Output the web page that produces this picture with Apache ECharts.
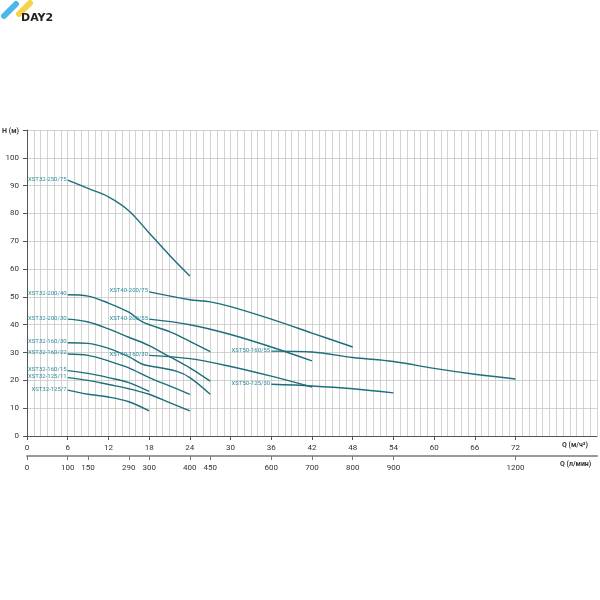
<!DOCTYPE html>
<html><head><meta charset="utf-8">
<script src="https://cdn.jsdelivr.net/npm/echarts@6/dist/echarts.min.js"></script>
<style>html,body{margin:0;padding:0;background:#fff}#c{width:600px;height:600px}</style>
</head><body><div id="c"></div>
<script>
const names = ["XST32-250/75","XST32-200/40","XST32-200/30","XST32-160/30","XST32-160/22","XST32-160/15","XST32-125/11","XST32-125/7","XST40-200/75","XST40-200/55","XST40-160/30","XST50-160/55","XST50-125/30"];
const curves = [
 [[6,92],[9,89],[12,86],[15,81],[18,73],[21,65],[24,57.5]],
 [[6,50.8],[9,50.3],[12,47.8],[15,44.5],[17,41],[21,37.5],[24,34],[27,30.3]],
 [[6,42],[9,41],[12,38.5],[15,35.5],[18,32.5],[21,28.5],[24,24.5],[27,19.7]],
 [[6,33.5],[9,33.3],[12,31.5],[15,28.5],[17,25.8],[19,24.8],[22,23.3],[24,21],[27,15]],
 [[6,29.5],[9,29],[12,27],[15,24.5],[18,21],[21,18],[24,15]],
 [[6,23.5],[9,22.5],[12,21],[15,19.2],[18,16]],
 [[6,21],[9,20],[12,18.5],[15,17],[18,15],[21,12],[24,9]],
 [[6,16.5],[9,15],[12,14],[15,12.3],[18,9]],
 [[18,51.8],[24,49],[27,48.2],[30,46.5],[36,42],[42,37],[48,32]],
 [[18,42],[24,40],[30,36.5],[36,32],[42,27]],
 [[18,29],[24,27.8],[30,25],[36,21.5],[42,17.6]],
 [[36,30.5],[42,30.2],[48,28.2],[54,26.8],[60,24.3],[66,22.2],[72,20.5]],
 [[36,18.6],[42,18],[48,17],[54,15.5]]
];
const qTicks = [0,6,12,18,24,30,36,42,48,54,60,66,72];
const lminPos = [0,6,9,15,18,24,27,36,42,48,54,72];
const lminLabels = ["0","100","150","290","300","400","450","600","700","800","900","1200"];
const lineColor = "#1d6f7c", labelColor = "#2b8c9c";
const series = curves.map((c,i)=>({
  type:'line', smooth:0.35, symbol:'circle', symbolSize:0.1, showSymbol:true,
  lineStyle:{color:lineColor,width:1.4}, itemStyle:{color:lineColor},
  data:c.map((p,j)=> j===0 ? {value:p,label:{show:true,position:'left',distance:1,offset:[0,-1],formatter:names[i],fontSize:6,color:labelColor,fontFamily:'Roboto'}} : {value:p}),
  silent:true, animation:false
}));
const ch = echarts.init(document.getElementById('c'));
ch.setOption({
  animation:false,
  grid:{left:27,right:3,top:130,bottom:164},
  xAxis:[
   {type:'value',min:0,max:84,
    axisLine:{lineStyle:{color:'#555'}},
    axisTick:{customValues:qTicks,length:4,lineStyle:{color:'#555'}},
    axisLabel:{customValues:qTicks,fontSize:8,color:'#333',fontFamily:'Roboto'},
    splitLine:{show:false}},
   {type:'value',min:0,max:84,position:'bottom',offset:20,
    axisLine:{show:true,lineStyle:{color:'#999',width:2}},
    axisTick:{show:true,customValues:lminPos,length:4,lineStyle:{color:'#777'}},
    axisLabel:{customValues:lminPos,fontSize:8,color:'#333',fontFamily:'Roboto',
      formatter:v=>lminLabels[lminPos.indexOf(v)]},
    splitLine:{show:false}},
   {type:'value',min:0,max:84,interval:1,position:'top',
    axisLine:{show:false},axisTick:{show:false},axisLabel:{show:false},
    splitLine:{show:true,lineStyle:{color:'#c8c8c8',width:0.8}}}
  ],
  yAxis:{type:'value',min:0,max:110,interval:10,
    axisLine:{show:true,lineStyle:{color:'#555'}},
    axisTick:{show:true,length:4},
    axisLabel:{fontSize:8,color:'#333',fontFamily:'Roboto',formatter:v=>v>100?'':v},
    splitLine:{lineStyle:{color:'#c8c8c8',width:0.8}}},
  series:series,
  graphic:[
    {type:'text',left:2,top:128,style:{text:'H (м)',fontSize:7,fontWeight:'bold',fill:'#333',fontFamily:'Roboto'}},
    {type:'text',left:562,top:442,style:{text:'Q (м/ч³)',fontSize:7,fontWeight:'bold',fill:'#333',fontFamily:'Roboto'}},
    {type:'text',left:560,top:461,style:{text:'Q (л/мин)',fontSize:7,fontWeight:'bold',fill:'#333',fontFamily:'Roboto'}},
    {type:'line',shape:{x1:4,y1:16,x2:16,y2:4},style:{stroke:'#4bb8e8',lineWidth:6,lineCap:'round'}},
    {type:'line',shape:{x1:19,y1:14,x2:30,y2:3},style:{stroke:'#f5d24a',lineWidth:6,lineCap:'round'}},
    {type:'text',left:21,top:13,style:{text:'DAY2',fontSize:11,fontWeight:'bold',fill:'#222',fontFamily:'DejaVu Sans',letterSpacing:1.5}}
  ]
});
</script></body></html>
